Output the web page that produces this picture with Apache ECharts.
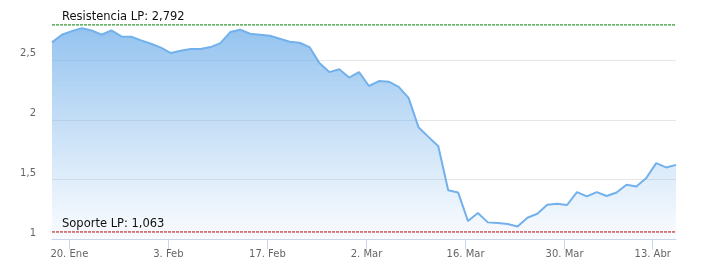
<!DOCTYPE html>
<html>
<head>
<meta charset="utf-8">
<script src="https://cdn.jsdelivr.net/npm/echarts@6.0.0/dist/echarts.min.js"></script>
<style>
  html, body { margin: 0; padding: 0; background: #fff; }
  #chart { width: 716px; height: 273px; }
</style>
</head>
<body>
<div id="chart"></div>
<script>
// Trading days (ordinal axis)
const dates = [
  '16 Ene','17 Ene','20 Ene','21 Ene','22 Ene','23 Ene','24 Ene','27 Ene','28 Ene','29 Ene','30 Ene','31 Ene',
  '3 Feb','4 Feb','5 Feb','6 Feb','7 Feb','10 Feb','11 Feb','12 Feb','13 Feb','14 Feb',
  '17 Feb','18 Feb','19 Feb','20 Feb','21 Feb','24 Feb','25 Feb','26 Feb','27 Feb','28 Feb',
  '2 Mar','3 Mar','4 Mar','5 Mar','6 Mar','9 Mar','10 Mar','11 Mar','12 Mar','13 Mar',
  '16 Mar','17 Mar','18 Mar','19 Mar','20 Mar','23 Mar','24 Mar','25 Mar','26 Mar','27 Mar',
  '30 Mar','31 Mar','1 Abr','2 Abr','3 Abr','6 Abr','7 Abr','8 Abr','9 Abr','14 Abr','15 Abr','16 Abr'
];
const prices = [
  2.646,2.710,2.740,2.765,2.746,2.710,2.746,2.696,2.693,2.663,
  2.635,2.602,2.557,2.577,2.590,2.590,2.607,2.640,2.732,2.752,
  2.718,2.710,2.702,2.677,2.652,2.643,2.607,2.473,2.398,2.421,
  2.352,2.398,2.282,2.323,2.318,2.275,2.183,1.938,1.857,1.778,
  1.411,1.393,1.154,1.221,1.143,1.138,1.129,1.108,1.182,1.215,
  1.290,1.298,1.288,1.396,1.360,1.396,1.363,1.393,1.457,1.443,
  1.513,1.638,1.602,1.623
];
const tickValues = [1.75, 11.75, 21.75, 31.75, 41.75, 51.75, 60.65];
const tickLabels = ['20. Ene', '3. Feb', '17. Feb', '2. Mar', '16. Mar', '30. Mar', '13. Abr'];
const resistance = 2.792;
const support = 1.063;
const resistanceLabel = 'Resistencia LP: 2,792';
const supportLabel = 'Soporte LP: 1,063';

const seriesData = prices.map((v, i) => [i, v]);
const FONT = 'DejaVu Sans';

function levelSeries(name, value, text, color) {
  return {
    name: name,
    type: 'line',
    data: [[0, value], [prices.length - 1, value]],
    showSymbol: true,
    symbol: 'circle',
    symbolSize: 0.01,
    silent: true,
    z: 3,
    emphasis: { disabled: true },
    lineStyle: { color: color, width: 1, type: [3, 1] },
    itemStyle: { color: color },
    label: {
      show: true, position: 'top', align: 'left', offset: [10, 0], distance: 2,
      formatter: p => (p.dataIndex === 0 ? text : ''),
      color: '#111', fontFamily: FONT, fontSize: 11.5
    }
  };
}

const chart = echarts.init(document.getElementById('chart'), null, { renderer: 'canvas' });
chart.setOption({
  animation: false,
  grid: { left: 52, right: 40, top: -0.5, bottom: 33.5, containLabel: false },
  xAxis: {
    type: 'value',
    min: 0,
    max: prices.length - 1,
    axisLine: { show: true, lineStyle: { color: '#ccd6eb', width: 1 } },
    axisTick: {
      show: true, length: 10, inside: false,
      customValues: tickValues,
      lineStyle: { color: '#ccd6eb', width: 1 }
    },
    axisLabel: {
      customValues: tickValues,
      formatter: function (v) {
        const k = tickValues.findIndex(t => Math.abs(t - v) < 1e-6);
        return k >= 0 ? tickLabels[k] : '';
      },
      color: '#666666', fontFamily: FONT, fontSize: 10, margin: 10
    },
    splitLine: { show: false }
  },
  yAxis: {
    type: 'value',
    min: 1,
    max: 3,
    interval: 0.5,
    axisLine: { show: false },
    axisTick: { show: false },
    axisLabel: {
      showMaxLabel: false,
      formatter: v => String(v).replace('.', ','),
      color: '#666666', fontFamily: FONT, fontSize: 10, margin: 16,
      verticalAlign: 'bottom', padding: [0, 0, 1, 0]
    },
    splitLine: { show: true, showMaxLine: false, showMinLine: false, lineStyle: { color: '#e6e6e6', width: 1 } }
  },
  series: [
    {
      name: 'precio',
      type: 'line',
      data: seriesData,
      showSymbol: false,
      symbol: 'none',
      lineStyle: { color: '#72b1ec', width: 2 },
      itemStyle: { color: '#7cb5ec' },
      areaStyle: {
        color: new echarts.graphic.LinearGradient(0, 0, 0, 1, [
          { offset: 0, color: '#66a9e9' },
          { offset: 1, color: 'rgba(124,181,236,0.06)' }
        ])
      }
    },
    levelSeries('resistencia', resistance, resistanceLabel, '#008000'),
    levelSeries('soporte', support, supportLabel, '#c00000')
  ]
});
</script>
</body>
</html>
